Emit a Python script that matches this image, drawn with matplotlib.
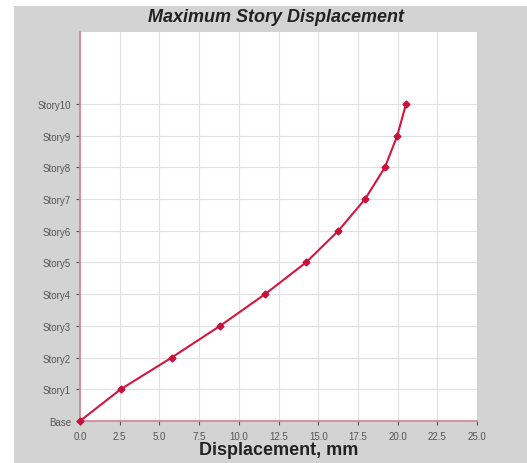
import matplotlib.pyplot as plt
from matplotlib.patches import Rectangle

# story labels and max displacement (mm)
stories = ["Base", "Story1", "Story2", "Story3", "Story4", "Story5",
           "Story6", "Story7", "Story8", "Story9", "Story10"]
displacement = [0.0, 2.56, 5.77, 8.82, 11.65, 14.23, 16.27, 17.95, 19.2, 19.98, 20.53]
xticks = [0.0, 2.5, 5.0, 7.5, 10.0, 12.5, 15.0, 17.5, 20.0, 22.5, 25.0]

plt.rcParams["font.family"] = ["Liberation Sans", "DejaVu Sans"]

fig = plt.figure(figsize=(5.27, 4.64), dpi=100, facecolor="white")
# grey panel behind the chart
fig.patches.append(Rectangle((14 / 527, 0), 1, 457 / 464, transform=fig.transFigure,
                             facecolor="#d3d3d3", edgecolor="none", zorder=-10))

ax = fig.add_axes([80 / 527, 42 / 464, 397 / 527, 389 / 464])
ax.set_facecolor("white")

levels = list(range(len(stories)))
ax.plot(displacement, levels, color="#d5163e", lw=1.5, marker="D", ms=3.5,
        mfc="#c8103a", mec="#c8103a", zorder=3, clip_on=False)

ax.set_xlim(0, 25)
ax.set_ylim(0, 12.27)
ax.set_xticks(xticks)
ax.set_xticklabels([f"{v:.1f}" for v in xticks])
ax.set_yticks(levels)
ax.set_yticklabels(stories)
ax.tick_params(axis="both", labelsize=7, colors="#555555", length=3, width=0.8)
ax.tick_params(axis="x", pad=4)

ax.grid(True, color="#e0e0e0", lw=0.8)
ax.set_axisbelow(True)
for side in ["top", "right"]:
    ax.spines[side].set_visible(False)
for side in ["left", "bottom"]:
    ax.spines[side].set_color("#d88090")
    ax.spines[side].set_linewidth(1.2)

fig.text(276 / 527, 1 - 17 / 464, "Maximum Story Displacement", ha="center", va="center",
         fontsize=13, fontweight="bold", fontstyle="italic", color="#222222")
ax.set_xlabel("Displacement, mm", fontsize=13, fontweight="bold", color="#222222", labelpad=0)

fig.savefig("out.png", dpi=100)
